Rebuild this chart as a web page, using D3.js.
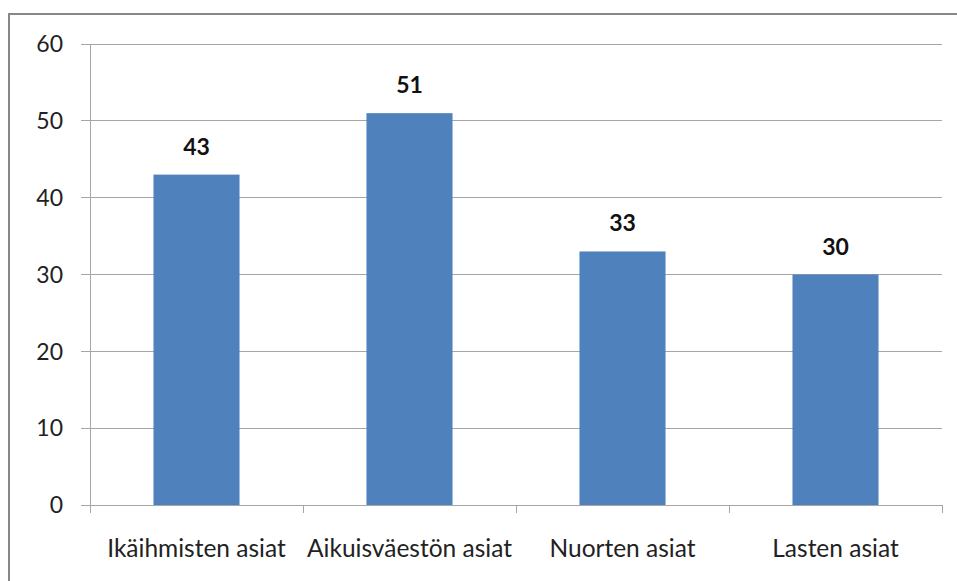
<!DOCTYPE html>
<html><head><meta charset="utf-8">
<script src="https://cdn.jsdelivr.net/npm/d3@7"></script>
<style>body{margin:0;background:#fff}svg{display:block}</style>
</head><body>
<script>
const categories = ["Ikäihmisten asiat", "Aikuisväestön asiat", "Nuorten asiat", "Lasten asiat"];
const values = [43, 51, 33, 30];
const yTicks = [0, 10, 20, 30, 40, 50, 60];

const W = 957, H = 581;
const margin = {left: 90, right: 15, top: 44, bottom: 76};
const svg = d3.select("body").append("svg").attr("width", W).attr("height", H);

svg.append("rect").attr("x", 9).attr("y", 14).attr("width", W).attr("height", H)
  .attr("fill", "none").attr("stroke", "#878787").attr("stroke-width", 2);

const x = d3.scaleBand().domain(categories).range([margin.left, W - margin.right]).paddingInner(0.596).paddingOuter(0.298);
const y = d3.scaleLinear().domain([0, 60]).range([H - margin.bottom, margin.top]);
const font = "Lato, 'Open Sans', sans-serif";

// gridlines
svg.append("g").selectAll("line").data(yTicks).join("line")
  .attr("x1", margin.left - 9).attr("x2", W - margin.right)
  .attr("y1", d => y(d)).attr("y2", d => y(d))
  .attr("stroke", "#a6a6a6").attr("stroke-width", 1).attr("shape-rendering", "crispEdges");

// y axis line
svg.append("line").attr("x1", margin.left).attr("x2", margin.left)
  .attr("y1", y(60)).attr("y2", y(0) + 8).attr("stroke", "#a6a6a6").attr("shape-rendering", "crispEdges");

// x ticks at band boundaries
const step = x.step();
const bounds = d3.range(categories.length + 1).map(i => margin.left + i * step);
svg.append("g").selectAll("line").data(bounds).join("line")
  .attr("x1", d => d).attr("x2", d => d).attr("y1", y(0)).attr("y2", y(0) + 8)
  .attr("stroke", "#a6a6a6").attr("shape-rendering", "crispEdges");

// y labels
svg.append("g").selectAll("text").data(yTicks).join("text")
  .attr("x", 63).attr("y", d => y(d)).attr("dy", "0.36em").attr("text-anchor", "end")
  .attr("font-family", font).attr("font-size", 23).attr("fill", "#222").text(d => d);

// bars
svg.append("g").selectAll("rect").data(values).join("rect")
  .attr("x", (d, i) => x(categories[i])).attr("width", x.bandwidth())
  .attr("y", d => y(d)).attr("height", d => y(0) - y(d)).attr("fill", "#4F81BD");

// value labels
svg.append("g").selectAll("text").data(values).join("text")
  .attr("x", (d, i) => x(categories[i]) + x.bandwidth() / 2).attr("y", d => y(d) - 20)
  .attr("text-anchor", "middle").attr("font-family", font).attr("font-weight", "bold")
  .attr("font-size", 23).attr("fill", "#111").text(d => d);

// category labels
svg.append("g").selectAll("text").data(categories).join("text")
  .attr("x", d => x(d) + x.bandwidth() / 2).attr("y", 557)
  .attr("text-anchor", "middle").attr("font-family", font).attr("font-size", 24.5).attr("fill", "#222").text(d => d);
</script>
</body></html>
